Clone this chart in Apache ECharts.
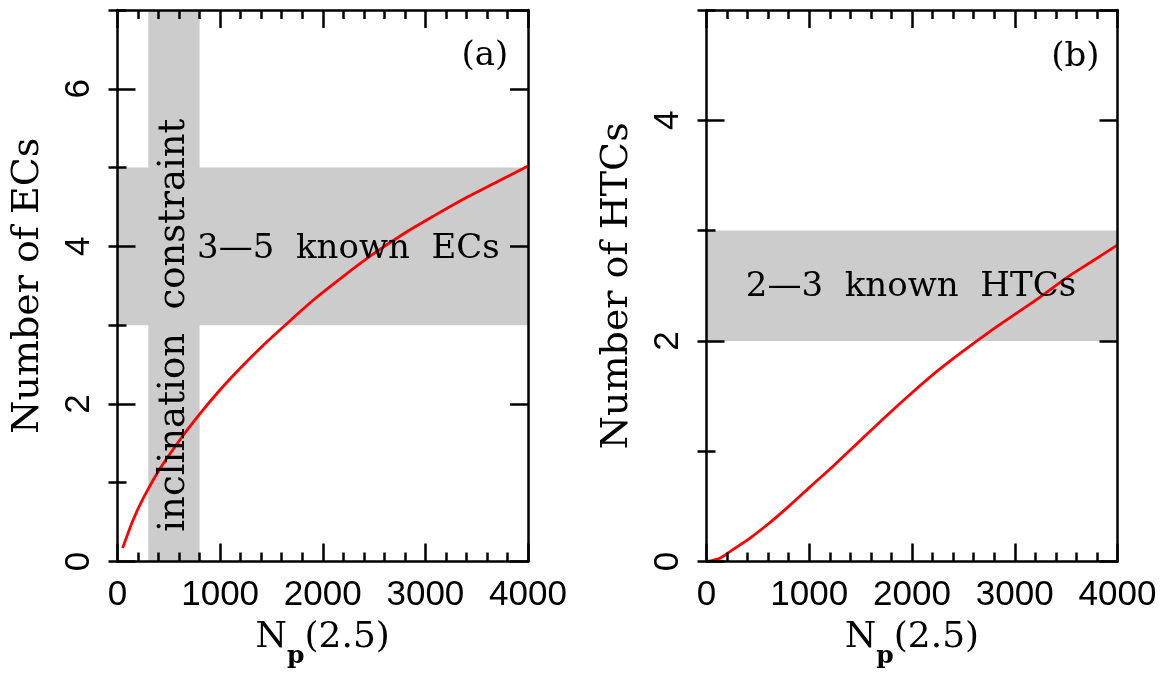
<!DOCTYPE html>
<html>
<head>
<meta charset="utf-8">
<title>Number of ECs and HTCs vs Np(2.5)</title>
<script src="https://cdn.jsdelivr.net/npm/echarts@6/dist/echarts.min.js"></script>
<style>
  html, body { margin: 0; padding: 0; background: #ffffff; }
  #chart { width: 1168px; height: 679px; }
</style>
</head>
<body>
<div id="chart"></div>
<script>
// Panel (a): expected number of ecliptic comets vs Np(2.5)
const ecX = [50, 150, 250, 400, 600, 800, 1000, 1200, 1400, 1600, 1900, 2200, 2500, 2800, 3100, 3400, 3700, 4000];
const ecY = [0.17, 0.52, 0.80, 1.15, 1.53, 1.87, 2.18, 2.46, 2.72, 2.96, 3.31, 3.62, 3.91, 4.17, 4.40, 4.62, 4.82, 5.02];

// Panel (b): expected number of Halley-type comets vs Np(2.5)
const htcX = [0, 130, 260, 420, 600, 800, 1000, 1250, 1500, 1750, 2000, 2250, 2500, 2750, 3000, 3250, 3500, 3750, 4000];
const htcY = [0, 0.03, 0.11, 0.21, 0.34, 0.50, 0.67, 0.88, 1.10, 1.32, 1.53, 1.73, 1.91, 2.08, 2.24, 2.40, 2.57, 2.72, 2.87];

// Shaded ranges
const ecKnown = [3, 5];          // 3–5 known ECs
const inclinationBand = [300, 800];
const htcKnown = [2, 3];          // 2–3 known HTCs

// Axis ranges
const xRange = [0, 4000];
const ecRange = [0, 7];
const htcRange = [0, 5];

// Text
const xTitle = '{n|N}{p|p}{n|(2.5)}';
const ecTitle = 'Number of ECs';
const htcTitle = 'Number of HTCs';
const ecBandText = '3\u20145  known  ECs';
const htcBandText = '2\u20143  known  HTCs';
const inclText = 'inclination  constraint';
const panelA = '(a)';
const panelB = '(b)';

const SERIF = '"DejaVu Serif", "Liberation Serif", serif';
const SANS = '"Liberation Sans", Arial, sans-serif';
const BAND = '#cccccc';
const AXW = 2.5;

function xAxes(grid) {
  const base = {
    type: 'value', gridIndex: grid, min: xRange[0], max: xRange[1], interval: 1000,
    z: 10,
    splitLine: { show: false },
    axisLine: { show: true, onZero: false, lineStyle: { color: '#000', width: AXW } },
    axisTick: { show: true, inside: true, length: 18, lineStyle: { color: '#000', width: AXW } },
    minorTick: { show: true, splitNumber: 5, length: 9, lineStyle: { color: '#000', width: AXW } },
    minorSplitLine: { show: false }
  };
  return [
    Object.assign({}, base, {
      position: 'bottom',
      axisLabel: { show: true, margin: 16, color: '#000', fontFamily: SANS, fontSize: 35, formatter: v => String(v) },
      name: xTitle, nameLocation: 'middle', nameGap: 58,
      nameTextStyle: {
        rich: {
          n: { fontFamily: SERIF, fontSize: 36, color: '#000', lineHeight: 40, verticalAlign: 'top' },
          p: { fontFamily: SERIF, fontSize: 25, color: '#000', fontWeight: 'bold', lineHeight: 40, verticalAlign: 'top', padding: [24, 0, 0, 0] }
        }
      }
    }),
    Object.assign({}, base, { position: 'top', axisLabel: { show: false } })
  ];
}

function yAxes(grid, range, title) {
  const line = { color: '#000', width: AXW };
  const common = {
    type: 'value', gridIndex: grid, min: range[0], max: range[1], z: 10,
    splitLine: { show: false }
  };
  return [
    // left, major ticks with labels
    Object.assign({}, common, {
      position: 'left', interval: 2,
      axisLine: { show: true, onZero: false, lineStyle: line },
      axisTick: { show: true, inside: true, length: 18, lineStyle: line },
      axisLabel: { show: true, rotate: 90, margin: 21, showMaxLabel: false, color: '#000', fontFamily: SANS, fontSize: 35 },
      name: title, nameLocation: 'middle', nameGap: 70,
      nameTextStyle: { fontFamily: SERIF, fontSize: 38, color: '#000' }
    }),
    // left, minor ticks
    Object.assign({}, common, {
      position: 'left', interval: 1,
      axisLine: { show: false },
      axisTick: { show: true, inside: true, length: 9, lineStyle: line },
      axisLabel: { show: false }
    }),
    // right, major ticks
    Object.assign({}, common, {
      position: 'right', interval: 2,
      axisLine: { show: true, onZero: false, lineStyle: line },
      axisTick: { show: true, inside: true, length: 18, lineStyle: line },
      axisLabel: { show: false }
    }),
    // right, minor ticks
    Object.assign({}, common, {
      position: 'right', interval: 1,
      axisLine: { show: false },
      axisTick: { show: true, inside: true, length: 9, lineStyle: line },
      axisLabel: { show: false }
    })
  ];
}

function pairs(xs, ys) {
  return xs.map((x, i) => [x, ys[i]]);
}

function textMark(xIdx, yIdx, pos, text, opts) {
  return {
    type: 'scatter', xAxisIndex: xIdx, yAxisIndex: yIdx, symbolSize: 0, z: 6,
    silent: true,
    itemStyle: { opacity: 1 },
    data: [pos],
    label: Object.assign({
      show: true, position: 'inside', formatter: text, color: '#000', opacity: 1,
      fontFamily: SERIF, fontSize: 34, align: 'center', verticalAlign: 'middle'
    }, opts || {})
  };
}

function curve(xIdx, yIdx, data, bands) {
  return {
    type: 'line', xAxisIndex: xIdx, yAxisIndex: yIdx, z: 4,
    data: data, smooth: 0.3, showSymbol: false,
    lineStyle: { color: '#ff0000', width: 2.8 },
    markArea: {
      silent: true,
      itemStyle: { color: BAND, opacity: 1 },
      data: bands
    }
  };
}

const chart = echarts.init(document.getElementById('chart'), null, { renderer: 'canvas' });

chart.setOption({
  animation: false,
  backgroundColor: '#ffffff',
  grid: [
    { left: 117.5, width: 410.5, top: 10, bottom: 117.5 },
    { left: 706.5, width: 411, top: 10, bottom: 117.5 }
  ],
  xAxis: [].concat(xAxes(0), xAxes(1)),
  yAxis: [].concat(yAxes(0, ecRange, ecTitle), yAxes(1, htcRange, htcTitle)),
  series: [
    curve(0, 0, pairs(ecX, ecY), [
      [{ yAxis: ecKnown[0] }, { yAxis: ecKnown[1] }],
      [{ xAxis: inclinationBand[0] }, { xAxis: inclinationBand[1] }]
    ]),
    curve(2, 4, pairs(htcX, htcY), [
      [{ yAxis: htcKnown[0] }, { yAxis: htcKnown[1] }]
    ]),
    textMark(0, 0, [550, 3.0], inclText, { rotate: 90, fontSize: 37 }),
    textMark(0, 0, [2250, 3.96], ecBandText),
    textMark(0, 0, [3580, 6.42], panelA),
    textMark(2, 4, [1990, 2.49], htcBandText),
    textMark(2, 4, [3590, 4.57], panelB)
  ]
});
</script>
</body>
</html>
